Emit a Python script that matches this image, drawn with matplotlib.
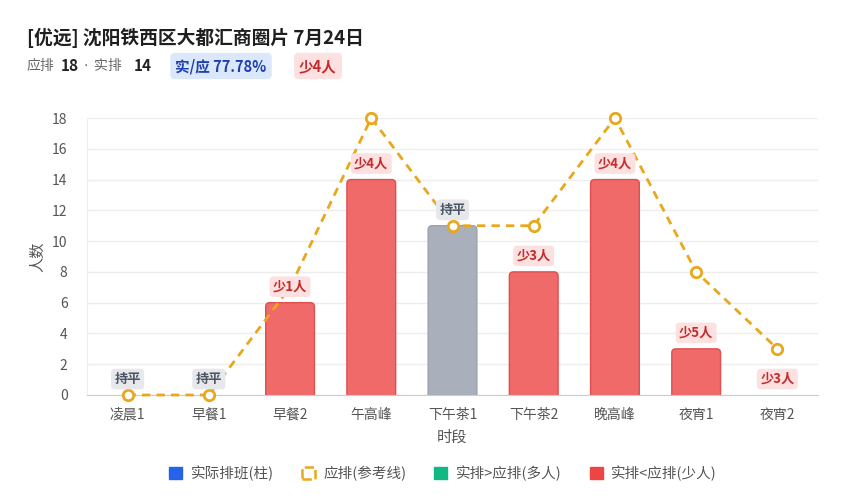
import matplotlib
matplotlib.use("Agg")
import matplotlib.pyplot as plt
from matplotlib.patches import Patch, FancyBboxPatch
import numpy as np

plt.rcParams['font.family'] = ['Noto Sans CJK SC', 'DejaVu Sans']

categories = ['凌晨1', '早餐1', '早餐2', '午高峰', '下午茶1', '下午茶2', '晚高峰', '夜宵1', '夜宵2']
actual = [0, 0, 6, 14, 11, 8, 14, 3, 0]
expected = [0, 0, 7, 18, 11, 11, 18, 8, 3]
yticks = [0, 2, 4, 6, 8, 10, 12, 14, 16, 18]

title = '[优远] 沈阳铁西区大都汇商圈片 7月24日'
total_expected = 18
total_actual = 14

RED = '#f06a6a'
RED_EDGE = '#e04e4e'
GRAY = '#a9b0bc'
ORANGE = '#e9a81c'

W, H = 849, 500
fig = plt.figure(figsize=(W / 100, H / 100), dpi=100)
fig.patch.set_facecolor('white')

def fx(px):
    return px / W

def fy(py):
    return 1 - py / H

ax_l, ax_r, ax_t, ax_b = 87, 818, 118, 395
ax = fig.add_axes([fx(ax_l), fy(ax_b), fx(ax_r) - fx(ax_l), fy(ax_t) - fy(ax_b)])
x = np.arange(len(categories))
n = len(categories)
ax.set_xlim(-0.5, n - 0.5)
ax.set_ylim(0, 18)

px_per_x = (ax_r - ax_l) / n
px_per_y = (ax_b - ax_t) / 18.0
rad_px = 4.0
rx = rad_px / px_per_x
ry = rad_px / px_per_y

bars = ax.bar(x, actual, width=0.6, color='none', linewidth=0)
for i, (rect, a, e) in enumerate(zip(bars, actual, expected)):
    if a <= 0:
        continue
    fc = GRAY if a == e else RED
    ec = '#9aa1ad' if a == e else RED_EDGE
    bx, bw = rect.get_x(), rect.get_width()
    p = FancyBboxPatch((bx + rx, -ry), bw - 2 * rx, a,
                       boxstyle=f'round,pad={rx},rounding_size={rx}',
                       mutation_aspect=ry / rx, fc=fc, ec=ec, lw=1, zorder=2)
    ax.add_patch(p)

ax.plot(x, expected, linestyle=(0, (3, 2.2)), color=ORANGE, linewidth=2, zorder=3,
        marker='o', markersize=7.5, markerfacecolor='white', markeredgecolor=ORANGE,
        markeredgewidth=2, clip_on=False)

for i, (a, e) in enumerate(zip(actual, expected)):
    d = e - a
    if d == 0:
        txt, fc, tc = '持平', '#e6e8ec', '#4b5563'
    elif d > 0:
        txt, fc, tc = f'少{d}人', '#fde0e0', '#c42b2b'
    else:
        txt, fc, tc = f'多{-d}人', '#d9f5e8', '#0f7a52'
    ax.annotate(txt, (i, a), xytext=(0, 11.5), textcoords='offset points',
                ha='center', va='center', fontsize=9.5, fontweight='bold', color=tc,
                bbox=dict(boxstyle='round,pad=0.25,rounding_size=0.3', fc=fc, ec='none'),
                zorder=5)

ax.set_yticks(yticks)
ax.set_xticks(x)
ax.set_xticklabels(categories)
ax.tick_params(axis='both', length=0, labelsize=10, colors='#555555')
ax.tick_params(axis='x', pad=9)
ax.tick_params(axis='y', pad=14)
ax.grid(axis='y', color='#eeeeee', linewidth=1, zorder=0)
ax.set_axisbelow(True)
for s in ['top', 'right']:
    ax.spines[s].set_visible(False)
ax.spines['left'].set_color('#eeeeee')
ax.spines['bottom'].set_color('#cccccc')
ax.set_xlabel('时段', fontsize=11, color='#555555', labelpad=5)
ax.set_ylabel('人数', fontsize=11, color='#555555', labelpad=4)

# header
fig.text(fx(27), fy(38), title, fontsize=13.5, fontweight='bold', color='#1f1f1f', va='center', ha='left')
fig.text(fx(27), fy(66), '应排', fontsize=10, color='#666666', va='center')
fig.text(fx(61), fy(66), str(total_expected), fontsize=11, fontweight='bold', color='#222222', va='center')
fig.text(fx(86), fy(66), '·', fontsize=10, color='#666666', va='center', ha='center',
         family=['DejaVu Sans'])
fig.text(fx(94), fy(66), '实排', fontsize=10, color='#666666', va='center')
fig.text(fx(134), fy(66), str(total_actual), fontsize=11, fontweight='bold', color='#222222', va='center')
ratio = total_actual / total_expected * 100
fig.text(fx(221), fy(66), f'实/应 {ratio:.2f}%', fontsize=10.5, fontweight='bold', color='#1e40af',
         va='center', ha='center',
         bbox=dict(boxstyle='round,pad=0.35,rounding_size=0.3', fc='#dbe8fb', ec='none'))
fig.text(fx(318), fy(66), f'少{total_expected - total_actual}人', fontsize=10.5, fontweight='bold',
         color='#c42b2b', va='center', ha='center',
         bbox=dict(boxstyle='round,pad=0.35,rounding_size=0.3', fc='#fde0e0', ec='none'))

handles = [
    Patch(facecolor='#2563eb', edgecolor='#2563eb', label='实际排班(柱)'),
    Patch(facecolor='white', edgecolor=ORANGE, linestyle='--', linewidth=1.8, label='应排(参考线)'),
    Patch(facecolor='#10b981', edgecolor='#10b981', label='实排>应排(多人)'),
    Patch(facecolor='#ef4444', edgecolor='#ef4444', label='实排<应排(少人)'),
]
leg = fig.legend(handles=handles, loc='center', bbox_to_anchor=(fx(443), fy(473)), ncol=4,
                 frameon=False, fontsize=10.5, handlelength=0.9, handleheight=0.9,
                 handletextpad=0.6, columnspacing=1.9)
for t in leg.get_texts():
    t.set_color('#555555')

fig.savefig('out.png', dpi=100)
